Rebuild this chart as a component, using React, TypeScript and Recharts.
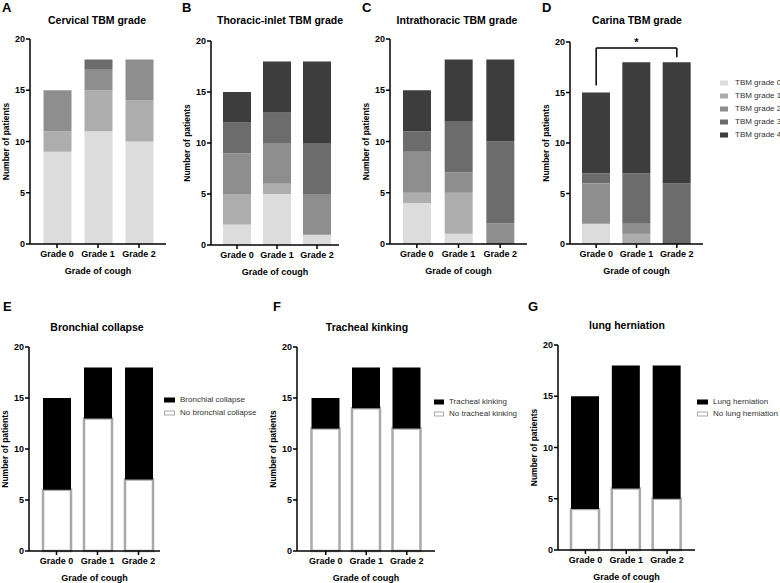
import React from 'react'
import { BarChart, Bar, XAxis, YAxis, ReferenceLine, ReferenceDot } from 'recharts'

// cough grade categories
const coughGrades = ['Grade 0', 'Grade 1', 'Grade 2']

// TBM series
const tbmKeys = ['g0', 'g1', 'g2', 'g3', 'g4']
const tbmNames = ['TBM grade 0', 'TBM grade 1', 'TBM grade 2', 'TBM grade 3', 'TBM grade 4']
const tbmColors = ['#dcdcdc', '#adadad', '#8e8e8e', '#6c6c6c', '#3d3d3d']

// rows = cough grade, columns = TBM grade 0..4 (patient counts)
const cervicalCounts = [
  [9, 2, 4, 0, 0],
  [11, 4, 2, 1, 0],
  [10, 4, 4, 0, 0],
]
const thoracicInletCounts = [
  [2, 3, 4, 3, 3],
  [5, 1, 4, 3, 5],
  [1, 0, 4, 5, 8],
]
const intrathoracicCounts = [
  [4, 1, 4, 2, 4],
  [1, 4, 2, 5, 6],
  [0, 0, 2, 8, 8],
]
const carinaCounts = [
  [2, 0, 4, 1, 8],
  [0, 1, 1, 5, 11],
  [0, 0, 0, 6, 12],
]

// yes / no findings
const bronchialNo = [6, 13, 7]
const bronchialYes = [9, 5, 11]
const trachealNo = [12, 14, 12]
const trachealYes = [3, 4, 6]
const herniationNo = [4, 6, 5]
const herniationYes = [11, 12, 13]

const yTicks = [0, 5, 10, 15, 20]

const FONT = '"Liberation Sans", Arial, sans-serif'
const Y_W = 30
const X_H = 32
const M_TOP = 10

type Geo = { axisX: number; xEnd: number; top: number; bottom: number; padL: number; padR: number }

type SeriesDef = { key: string; name: string; fill: string; stroke?: string }

const axisStyle = { stroke: '#000', strokeWidth: 1.5 }
const tickFont = { fontSize: 9, fontWeight: 700, fill: '#000' }

function tbmRows(counts: number[][]) {
  return coughGrades.map((grade, i) => {
    const row: Record<string, string | number> = { grade }
    tbmKeys.forEach((k, j) => {
      row[k] = counts[i][j]
    })
    return row
  })
}

function yesNoRows(no: number[], yes: number[]) {
  return coughGrades.map((grade, i) => ({ grade, no: no[i], yes: yes[i] }))
}

function StackPanel({
  geo,
  data,
  series,
  children,
}: {
  geo: Geo
  data: any[]
  series: SeriesDef[]
  children?: React.ReactNode
}) {
  const width = geo.xEnd - geo.axisX + Y_W + 2
  const height = geo.bottom - geo.top + M_TOP + X_H
  return (
    <div style={{ position: 'absolute', left: geo.axisX - Y_W, top: geo.top - M_TOP }}>
      <BarChart
        width={width}
        height={height}
        data={data}
        margin={{ top: M_TOP, right: 2, left: 0, bottom: 0 }}
        barSize={28}
        style={{ overflow: 'visible' }}
      >
        <XAxis
          dataKey="grade"
          height={X_H}
          padding={{ left: geo.padL, right: geo.padR }}
          axisLine={axisStyle}
          tickLine={axisStyle}
          tickSize={4}
          tickMargin={3}
          tick={tickFont}
          label={{ value: 'Grade of cough', position: 'insideBottom', offset: 2, ...tickFont }}
        />
        <YAxis
          width={Y_W}
          domain={[0, 20]}
          ticks={yTicks}
          axisLine={axisStyle}
          tickLine={axisStyle}
          tickSize={4}
          tickMargin={1}
          tick={tickFont}
          label={{
            value: 'Number of patients',
            angle: -90,
            position: 'insideLeft',
            offset: 6,
            style: { textAnchor: 'middle' },
            ...tickFont,
            fontSize: 8.5,
          }}
        />
        {series.map(s => (
          <Bar
            key={s.key}
            dataKey={s.key}
            name={s.name}
            stackId="a"
            fill={s.fill}
            stroke={s.stroke}
            strokeWidth={s.stroke ? 2.5 : 0}
            isAnimationActive={false}
          />
        ))}
        {children}
      </BarChart>
    </div>
  )
}

function LegendBox({
  left,
  top,
  items,
  step,
  swatchW,
}: {
  left: number
  top: number
  items: SeriesDef[]
  step: number
  swatchW: number
}) {
  return (
    <div style={{ position: 'absolute', left, top }}>
      {items.map((it, i) => (
        <div
          key={it.key}
          style={{ position: 'absolute', top: i * step, left: 0, display: 'flex', alignItems: 'center', whiteSpace: 'nowrap' }}
        >
          <div
            style={{
              width: swatchW,
              height: 5,
              boxSizing: 'border-box',
              background: it.fill,
              border: it.stroke ? `1.5px solid ${it.stroke}` : 'none',
              transform: 'translateY(-50%)',
              position: 'absolute',
              left: 0,
              top: 0,
            }}
          />
          <span
            style={{
              position: 'absolute',
              left: swatchW + (swatchW > 9 ? 5 : 7),
              top: 0,
              transform: 'translateY(-50%)',
              fontSize: 8,
              color: '#333',
              lineHeight: '10px',
            }}
          >
            {it.name}
          </span>
        </div>
      ))}
    </div>
  )
}

function Title({ x, y, text }: { x: number; y: number; text: string }) {
  return (
    <div
      style={{
        position: 'absolute',
        left: x,
        top: y,
        transform: 'translate(-50%, -50%)',
        fontSize: 10.5,
        fontWeight: 700,
        lineHeight: '12px',
        whiteSpace: 'nowrap',
      }}
    >
      {text}
    </div>
  )
}

function Letter({ x, y, text }: { x: number; y: number; text: string }) {
  return (
    <div style={{ position: 'absolute', left: x, top: y, fontSize: 13, fontWeight: 700, lineHeight: '13px' }}>
      {text}
    </div>
  )
}

const tbmSeries: SeriesDef[] = tbmKeys.map((k, i) => ({ key: k, name: tbmNames[i], fill: tbmColors[i] }))

function yesNoSeries(yesName: string, noName: string): SeriesDef[] {
  return [
    { key: 'no', name: noName, fill: '#ffffff', stroke: '#a9a9a9' },
    { key: 'yes', name: yesName, fill: '#000000' },
  ]
}

export default function App() {
  const bronchial = yesNoSeries('Bronchial collapse', 'No bronchial collapse')
  const tracheal = yesNoSeries('Tracheal kinking', 'No tracheal kinking')
  const herniation = yesNoSeries('Lung herniation', 'No lung herniation')

  return (
    <div
      style={{
        position: 'absolute',
        left: 0,
        top: 0,
        width: 780,
        height: 583,
        background: '#fff',
        fontFamily: FONT,
        color: '#000',
        overflow: 'hidden',
      }}
    >
      <Letter x={2} y={1} text="A" />
      <Letter x={182} y={1} text="B" />
      <Letter x={362} y={1} text="C" />
      <Letter x={542} y={1} text="D" />
      <Letter x={3} y={300} text="E" />
      <Letter x={273} y={300} text="F" />
      <Letter x={528} y={300} text="G" />

      <Title x={97} y={20} text="Cervical TBM grade" />
      <Title x={280} y={20} text="Thoracic-inlet TBM grade" />
      <Title x={457} y={20} text="Intrathoracic TBM grade" />
      <Title x={637} y={20} text="Carina TBM grade" />
      <Title x={97} y={327} text="Bronchial collapse" />
      <Title x={367} y={327} text="Tracheal kinking" />
      <Title x={627} y={325} text="lung herniation" />

      <StackPanel
        geo={{ axisX: 30, xEnd: 166, top: 39, bottom: 244, padL: 6.5, padR: 6.5 }}
        data={tbmRows(cervicalCounts)}
        series={tbmSeries}
      />
      <StackPanel
        geo={{ axisX: 211, xEnd: 339, top: 41, bottom: 245, padL: 6, padR: 2 }}
        data={tbmRows(thoracicInletCounts)}
        series={tbmSeries}
      />
      <StackPanel
        geo={{ axisX: 390, xEnd: 527, top: 39, bottom: 244, padL: 6, padR: 6 }}
        data={tbmRows(intrathoracicCounts)}
        series={tbmSeries}
      />
      <StackPanel
        geo={{ axisX: 570, xEnd: 703, top: 42, bottom: 244, padL: 6, padR: 6 }}
        data={tbmRows(carinaCounts)}
        series={tbmSeries}
      >
        <ReferenceLine
          segment={[{ x: 'Grade 0', y: 19.4 }, { x: 'Grade 2', y: 19.4 }]}
          stroke="#000"
          strokeWidth={1.5}
          ifOverflow="visible"
        />
        <ReferenceLine
          segment={[{ x: 'Grade 0', y: 19.4 }, { x: 'Grade 0', y: 15.7 }]}
          stroke="#000"
          strokeWidth={1.5}
          ifOverflow="visible"
        />
        <ReferenceLine
          segment={[{ x: 'Grade 2', y: 19.4 }, { x: 'Grade 2', y: 18.5 }]}
          stroke="#000"
          strokeWidth={1.5}
          ifOverflow="visible"
        />
        <ReferenceDot
          x="Grade 1"
          y={20}
          r={0}
          fill="none"
          stroke="none"
          ifOverflow="visible"
          label={{ value: '*', position: 'center', fontSize: 11, fontWeight: 700, fill: '#000' }}
        />
      </StackPanel>
      <LegendBox left={720} top={83} items={tbmSeries} step={13} swatchW={8} />

      <StackPanel
        geo={{ axisX: 29, xEnd: 160, top: 347, bottom: 551, padL: 7, padR: 1 }}
        data={yesNoRows(bronchialNo, bronchialYes)}
        series={bronchial}
      />
      <LegendBox left={164} top={400} items={[bronchial[1], bronchial[0]]} step={13} swatchW={11} />

      <StackPanel
        geo={{ axisX: 297, xEnd: 435, top: 347, bottom: 551, padL: 8.5, padR: 8 }}
        data={yesNoRows(trachealNo, trachealYes)}
        series={tracheal}
      />
      <LegendBox left={434} top={402} items={[tracheal[1], tracheal[0]]} step={11.5} swatchW={10} />

      <StackPanel
        geo={{ axisX: 558, xEnd: 695, top: 345, bottom: 550, padL: 7, padR: 7.5 }}
        data={yesNoRows(herniationNo, herniationYes)}
        series={herniation}
      />
      <LegendBox left={697} top={402} items={[herniation[1], herniation[0]]} step={11.5} swatchW={11} />
    </div>
  )
}
